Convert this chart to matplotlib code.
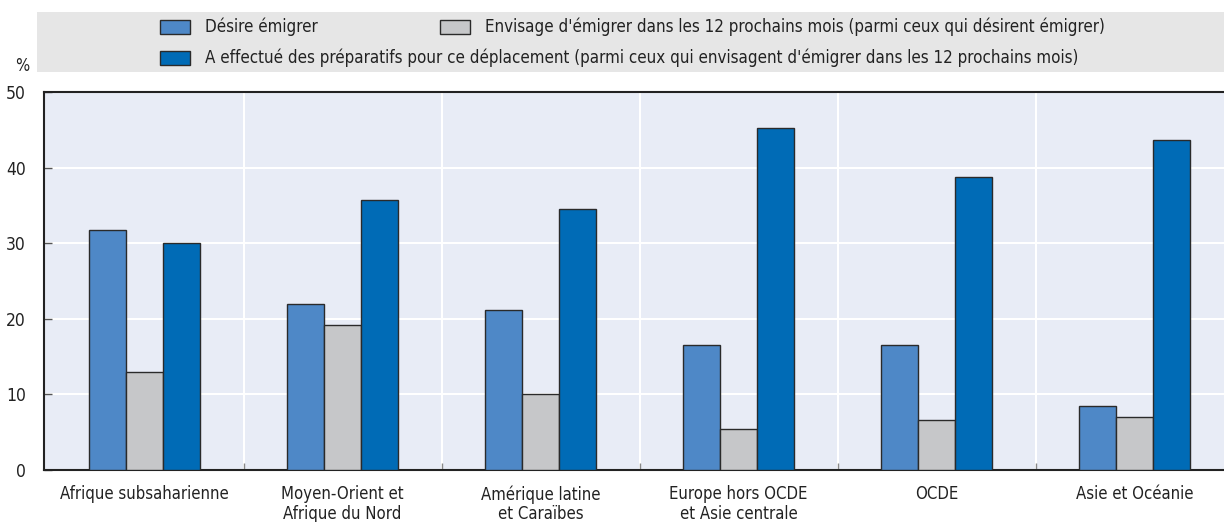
import matplotlib
matplotlib.use("Agg")
import matplotlib.pyplot as plt
import numpy as np
from matplotlib.patches import Rectangle

categories = ["Afrique subsaharienne", "Moyen-Orient et\nAfrique du Nord",
              "Amérique latine\net Caraïbes", "Europe hors OCDE\net Asie centrale",
              "OCDE", "Asie et Océanie"]
desire = [31.8, 21.9, 21.1, 16.5, 16.5, 8.4]
envisage = [13.0, 19.2, 10.0, 5.4, 6.6, 7.0]
prepar = [30.0, 35.7, 34.5, 45.2, 38.7, 43.6]
series_labels = ["Désire émigrer",
                 "Envisage d'émigrer dans les 12 prochains mois (parmi ceux qui désirent émigrer)",
                 "A effectué des préparatifs pour ce déplacement (parmi ceux qui envisagent d'émigrer dans les 12 prochains mois)"]
colors = ["#4E88C7", "#C6C7C9", "#006BB6"]
yticks = [0, 10, 20, 30, 40, 50]

plt.rcParams["font.family"] = ["DejaVu Sans"]
plt.rcParams["font.stretch"] = "condensed"
plt.rcParams["font.size"] = 12
txtc = "#222222"

fig = plt.figure(figsize=(12.24, 5.22), dpi=100)
ax = fig.add_axes([44/1224, 1-470/522, (1224-44)/1224, (470-92)/522])
ax.set_facecolor("#E8ECF6")

x = np.arange(len(categories))
w = 0.187
for i, (vals, c) in enumerate(zip([desire, envisage, prepar], colors)):
    ax.bar(x + (i-1)*w, vals, width=w, color=c, edgecolor="#2a2a2a", linewidth=1.0, zorder=3)

ax.set_xlim(-0.508, 5.452)
ax.set_ylim(0, 50)
ax.set_yticks(yticks)
ax.set_yticklabels([str(t) for t in yticks], color=txtc, fontsize=12.5)
ax.tick_params(axis="y", direction="in", length=6, width=1, color="#555555", pad=13)
ax.set_xticks(x)
ax.set_xticklabels(categories, color=txtc, fontsize=12, linespacing=1.1)
ax.tick_params(axis="x", length=0, pad=11)
ax.set_xticks(np.arange(0.5, len(categories)-0.5, 1), minor=True)
ax.tick_params(axis="x", which="minor", direction="in", length=5, width=1, color="#888888")
ax.grid(axis="y", color="white", linewidth=1.5, zorder=1)
ax.grid(axis="x", which="minor", color="white", linewidth=1.5, zorder=1)
ax.set_axisbelow(True)
ax.spines["right"].set_visible(False)
for s in ["left", "bottom", "top"]:
    ax.spines[s].set_color("#222222")
    ax.spines[s].set_linewidth(1.5)

fig.text(22/1224, 1-66/522, "%", ha="center", va="center", fontsize=12, color=txtc)

# legend panel
fig.patches.append(Rectangle((37/1224, 1-72/522), (1224-37)/1224, 60/522,
                             transform=fig.transFigure, facecolor="#E6E6E6",
                             edgecolor="none", zorder=0))
pos = [(160, 27), (440, 27), (160, 58)]
for (px, py), lab, c in zip(pos, series_labels, colors):
    fig.patches.append(Rectangle((px/1224, 1-(py+7)/522), 30/1224, 14/522,
                                 transform=fig.transFigure, facecolor=c,
                                 edgecolor="#2a2a2a", linewidth=1.0))
    fig.text((px+45)/1224, 1-py/522, lab, ha="left", va="center", fontsize=12.2, color=txtc)

fig.savefig("out.png", dpi=100)
